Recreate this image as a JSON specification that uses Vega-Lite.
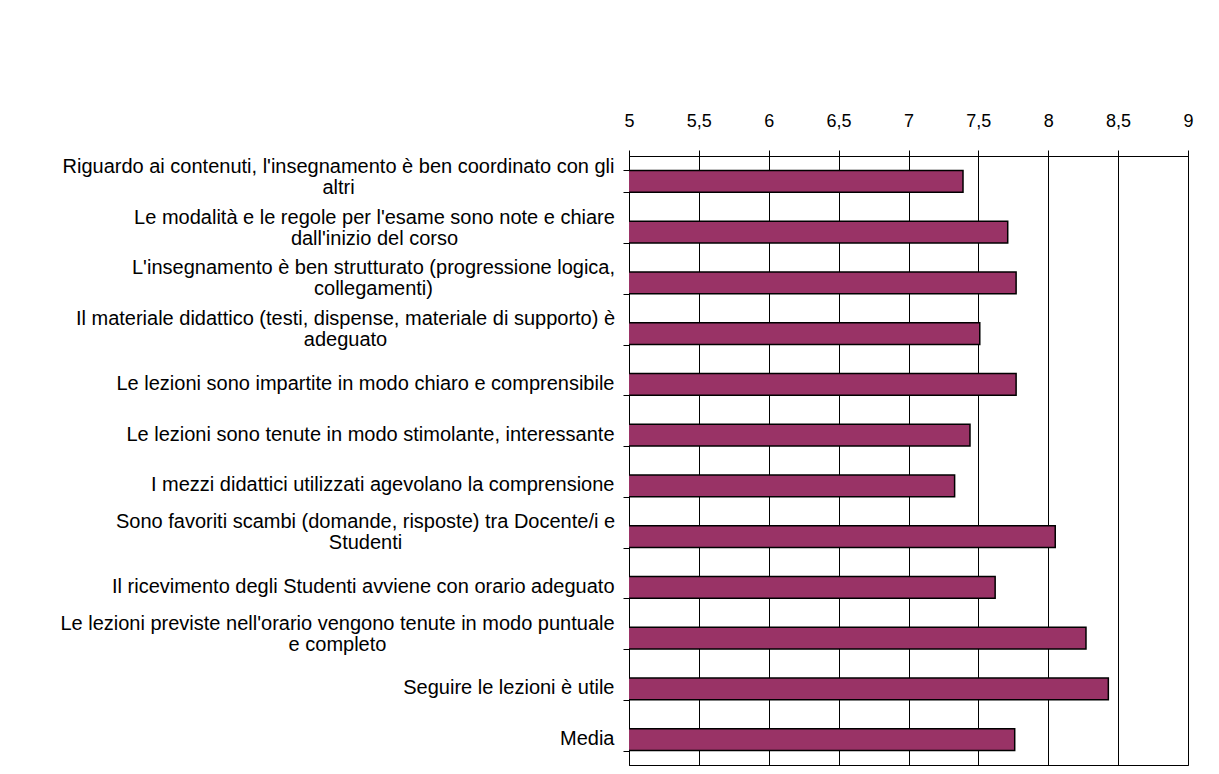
{
  "$schema": "https://vega.github.io/schema/vega-lite/v6.json",
  "autosize": {"type": "none"},
  "padding": {"left": 629, "top": 156, "right": 31, "bottom": 9},
  "width": 559,
  "height": 609,
  "background": "white",
  "data": {
    "values": [
      {"q": "Riguardo ai contenuti, l'insegnamento è ben coordinato con gli|altri", "v": 7.39},
      {"q": "Le modalità e le regole per l'esame sono note e chiare|dall'inizio del corso", "v": 7.71},
      {"q": "L'insegnamento è ben strutturato (progressione logica,|collegamenti)", "v": 7.77},
      {"q": "Il materiale didattico (testi, dispense, materiale di supporto) è|adeguato", "v": 7.51},
      {"q": "Le lezioni sono impartite in modo chiaro e comprensibile", "v": 7.77},
      {"q": "Le lezioni sono tenute in modo stimolante, interessante", "v": 7.44},
      {"q": "I mezzi didattici utilizzati agevolano la comprensione", "v": 7.33},
      {"q": "Sono favoriti scambi (domande, risposte) tra Docente/i e|Studenti", "v": 8.05},
      {"q": "Il ricevimento degli Studenti avviene con orario adeguato", "v": 7.62},
      {"q": "Le lezioni previste nell'orario vengono tenute in modo puntuale|e completo", "v": 8.27},
      {"q": "Seguire le lezioni è utile", "v": 8.43},
      {"q": "Media", "v": 7.76}
    ]
  },
  "mark": {"type": "bar", "fill": "#993366", "stroke": "#000000", "strokeWidth": 1.5, "clip": true},
  "encoding": {
    "y": {
      "field": "q",
      "type": "nominal",
      "sort": null,
      "scale": {"paddingInner": 0.57, "paddingOuter": 0.285},
      "axis": {
        "title": null,
        "labelExpr": "datum.extra || !isString(datum.value) ? '' : split(datum.value, '|')",
        "labelFont": "Liberation Sans",
        "labelFontSize": 20,
        "labelLineHeight": 21,
        "labelColor": "#000000",
        "labelLimit": 0,
        "labelAlign": {"condition": {"test": "isString(datum.value) && indexof(datum.value, '|') >= 0", "value": "center"}, "value": "right"},
        "labelPadding": {"condition": [
          {"test": "isString(datum.value) && indexof(datum.value, 'Riguardo') == 0", "value": 285},
          {"test": "isString(datum.value) && indexof(datum.value, 'Le modalit') == 0", "value": 249},
          {"test": "isString(datum.value) && indexof(datum.value, 'L\\'insegnamento') == 0", "value": 250},
          {"test": "isString(datum.value) && indexof(datum.value, 'Il materiale') == 0", "value": 278},
          {"test": "isString(datum.value) && indexof(datum.value, 'Sono favoriti') == 0", "value": 258},
          {"test": "isString(datum.value) && indexof(datum.value, 'Le lezioni previste') == 0", "value": 286}
        ], "value": 9},
        "labelOffset": {"condition": {"test": "isString(datum.value) && indexof(datum.value, '|') >= 0", "value": -15}, "value": -1},
        "domainColor": "#000000",
        "tickColor": "#000000",
        "tickBand": "extent",
        "tickSize": 6,
        "grid": false
      }
    },
    "x": {
      "field": "v",
      "type": "quantitative",
      "scale": {"domain": [5, 9], "nice": false, "zero": false},
      "axis": {
        "orient": "top",
        "title": null,
        "values": [5, 5.5, 6, 6.5, 7, 7.5, 8, 8.5, 9],
        "labelExpr": "replace(toString(datum.value), '.', ',')",
        "labelFont": "Liberation Sans",
        "labelFontSize": 18,
        "labelColor": "#000000",
        "labelPadding": 20,
        "labelFlush": false,
        "domainColor": "#000000",
        "tickColor": "#000000",
        "tickSize": 6,
        "grid": true,
        "gridColor": "#000000",
        "gridOpacity": 1,
        "gridWidth": 1
      }
    }
  },
  "config": {
    "view": {"stroke": "#000000", "strokeWidth": 1},
    "font": "Liberation Sans"
  }
}
